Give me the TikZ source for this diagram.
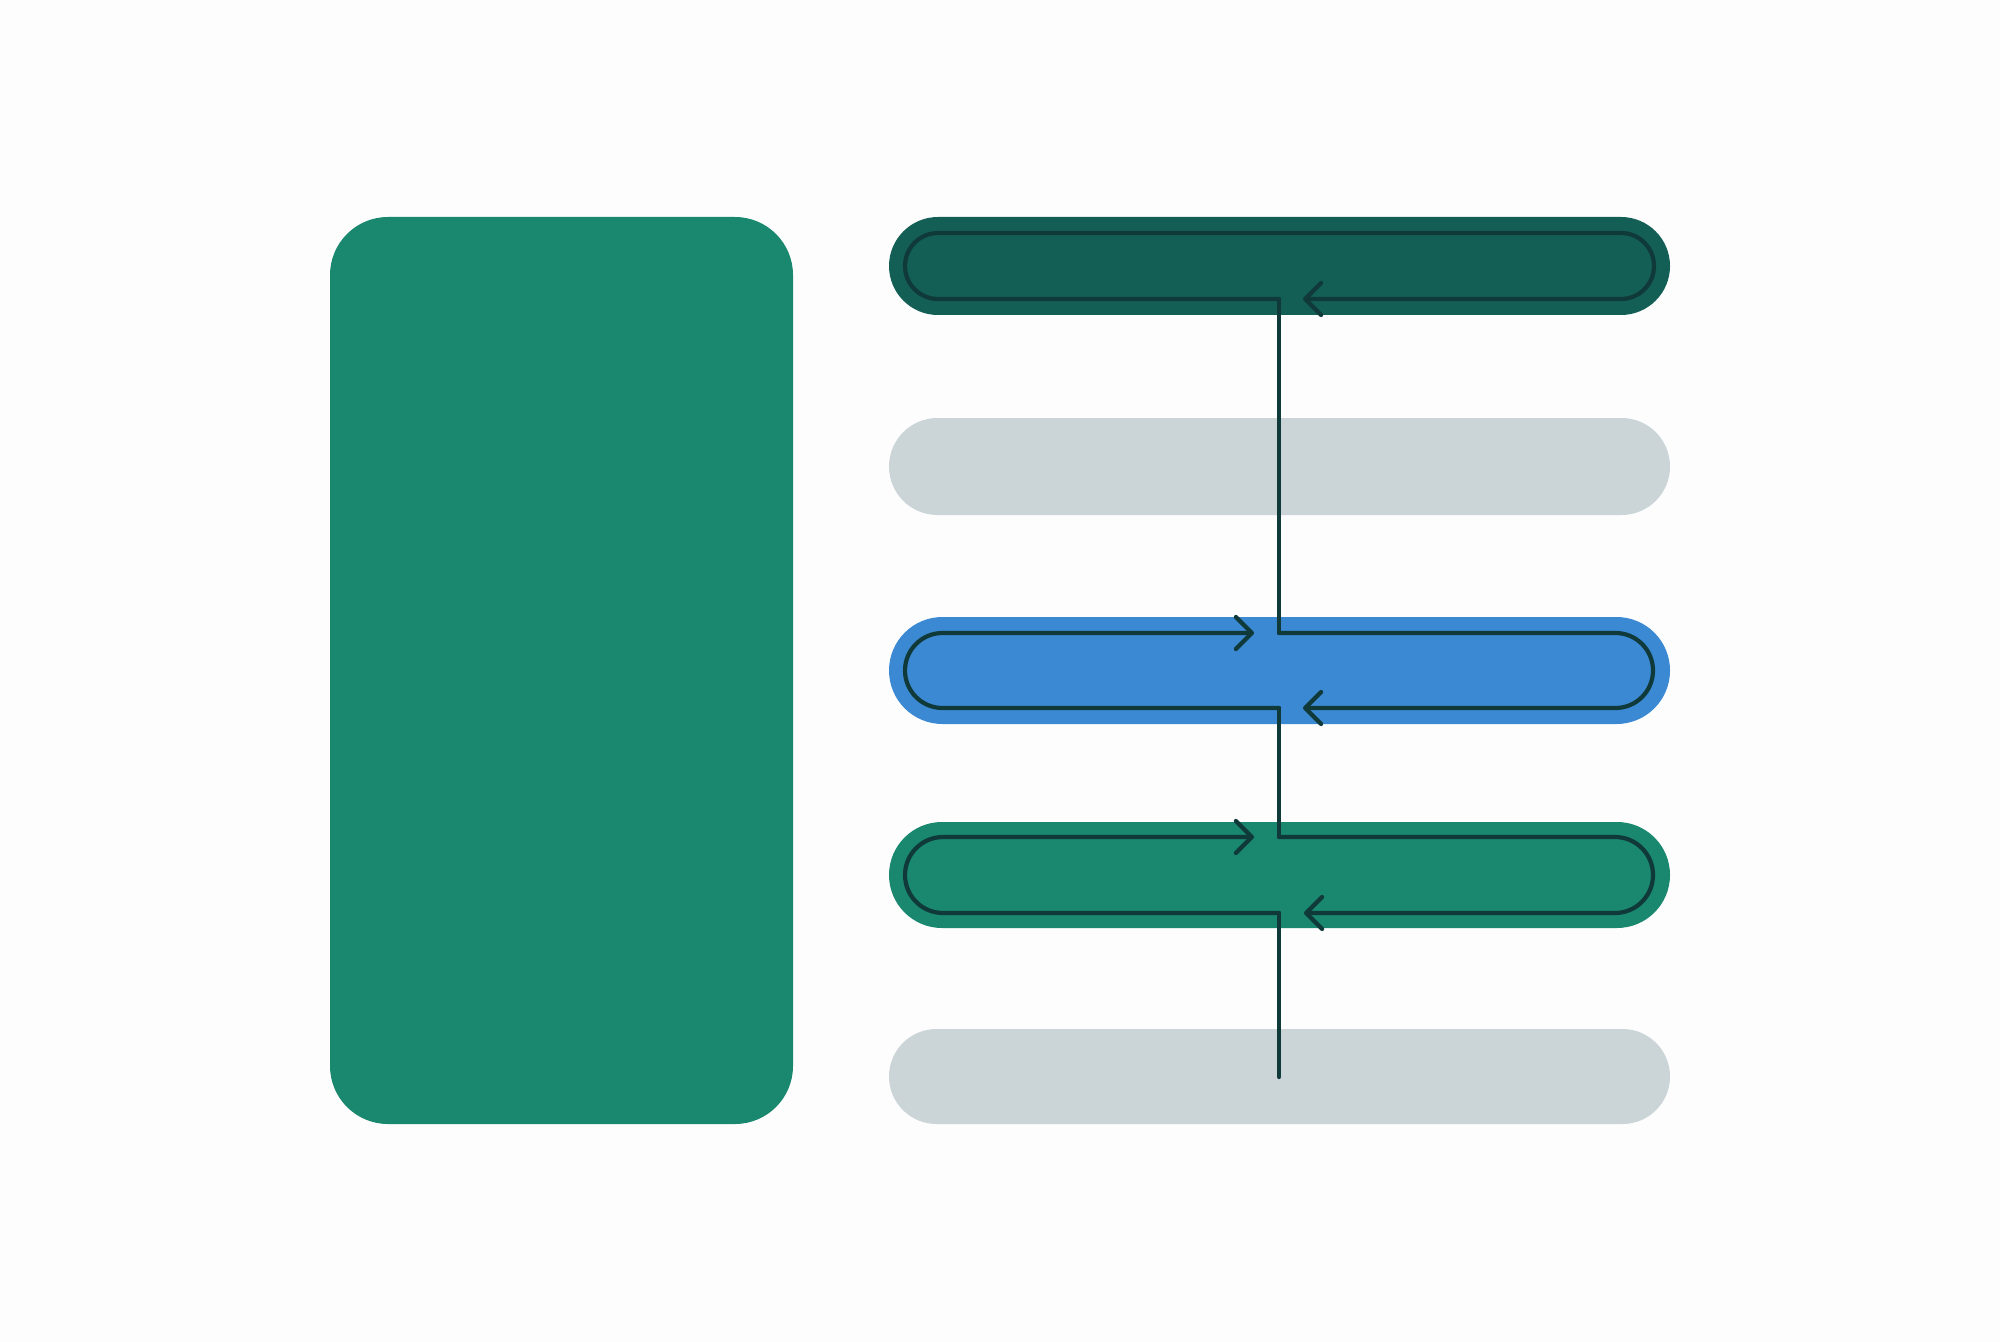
\documentclass[tikz,border=0pt]{standalone}
\usetikzlibrary{arrows.meta}
\definecolor{bg}{HTML}{FDFDFD}
\definecolor{tealA}{HTML}{1A876F}
\definecolor{tealD}{HTML}{145F55}
\definecolor{greyB}{HTML}{CBD5D7}
\definecolor{blueB}{HTML}{3B89D3}
\definecolor{ink}{HTML}{10393A}
\begin{document}
\begin{tikzpicture}[x=0.5pt,y=-0.5pt,
  flow/.style={draw=ink, line width=2.1pt, line cap=round, line join=round},
  >={Straight Barb[length=8pt,width=16pt,line cap=round,line join=round]}]
\fill[bg] (0,0) rectangle (2000,1342);
\useasboundingbox (0,0) rectangle (2000,1342);
% panels
\fill[tealA, rounded corners=29pt] (330,217) rectangle (793,1124);
\fill[tealD, rounded corners=24.5pt] (889,217) rectangle (1670,315);
\fill[greyB, rounded corners=24.25pt] (889,418) rectangle (1670,515);
\fill[blueB, rounded corners=26.75pt] (889,617) rectangle (1670,724);
\fill[tealA, rounded corners=26.5pt] (889,822) rectangle (1670,928);
\fill[greyB, rounded corners=23.75pt] (889,1029) rectangle (1670,1124);
% junctions
\coordinate (j1) at (1279,299);
\coordinate (j2) at (1279,633);
\coordinate (j3) at (1279,708);
\coordinate (j4) at (1279,837);
\coordinate (j5) at (1279,913);
\coordinate (jend) at (1279,1077);
% loops
\draw[flow, rounded corners=16.5pt, ->] (j1) -- (905,299) -- (905,233) -- (1654,233) -- (1654,299) -- (1303,299);
\draw[flow] (j1) -- (j2);
\draw[flow, rounded corners=18.75pt, ->] (j3) -- (905,708) -- (905,633) -- (1254,633);
\draw[flow, rounded corners=18.75pt, ->] (j2) -- (1653,633) -- (1653,708) -- (1303,708);
\draw[flow] (j3) -- (j4);
\draw[flow, rounded corners=19pt, ->] (j5) -- (905,913) -- (905,837) -- (1254,837);
\draw[flow, rounded corners=19pt, ->] (j4) -- (1653,837) -- (1653,913) -- (1304,913);
\draw[flow] (j5) -- (jend);
\end{tikzpicture}
\end{document}
